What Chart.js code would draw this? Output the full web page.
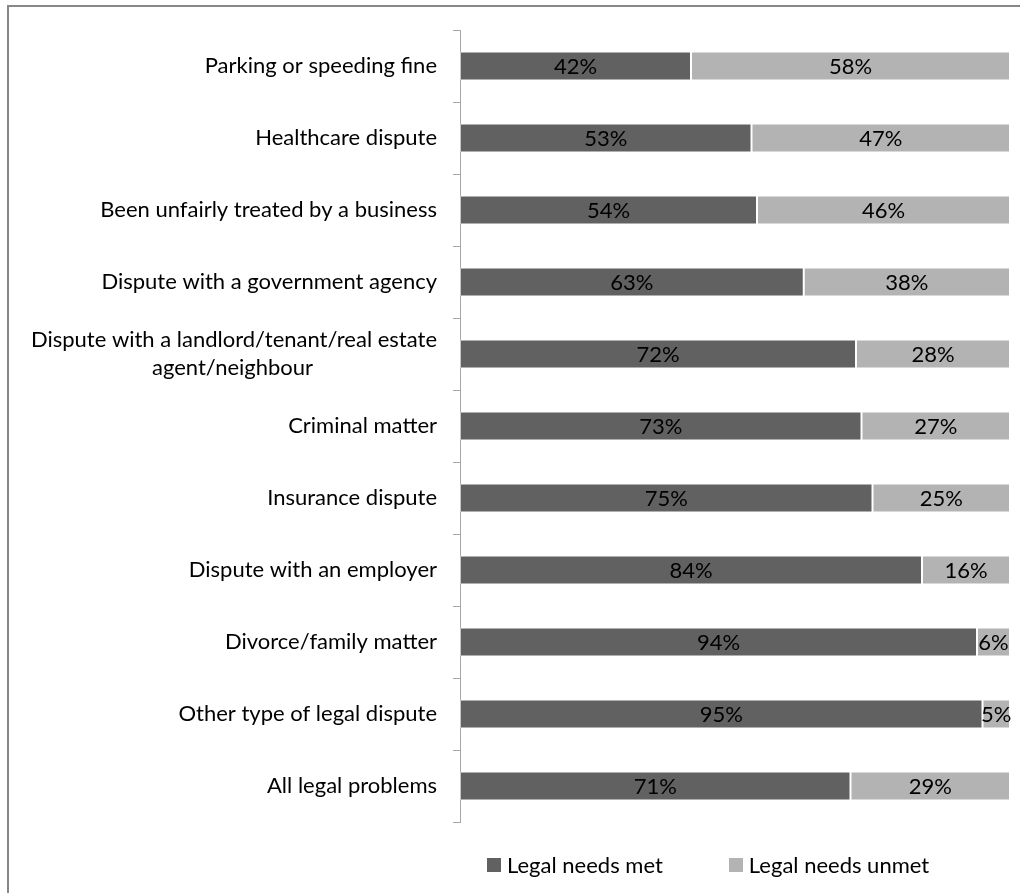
<!DOCTYPE html>
<html>
<head>
<meta charset="utf-8">
<script src="https://cdn.jsdelivr.net/npm/chart.js@4"></script>
<style>
  html, body { margin: 0; padding: 0; width: 1020px; height: 893px; overflow: hidden; background: #fff; }
  #frame { position: absolute; left: 7px; top: 5px; width: 1100px; height: 1000px;
           border-left: 2px solid #878787; border-top: 2px solid #878787; }
  #wrap { position: absolute; left: 0; top: 0; width: 1020px; height: 893px; }
  #legend { position: absolute; top: 850px; left: 487px; height: 28px; line-height: 28px; font-family: Lato, "Liberation Sans", sans-serif;
            font-size: 22px; color: #000; white-space: nowrap; }
  .item { display: inline-flex; align-items: center; margin-right: 66px; }
  .sw { width: 14px; height: 14px; margin-right: 6px; display: inline-block; }
</style>
</head>
<body>
<div id="frame"></div>
<div id="wrap"><canvas id="c" width="1020" height="893"></canvas></div>
<div id="legend"></div>
<script>
const categories = [
  "Parking or speeding fine",
  "Healthcare dispute",
  "Been unfairly treated by a business",
  "Dispute with a government agency",
  ["Dispute with a landlord/tenant/real estate", "agent/neighbour"],
  "Criminal matter",
  "Insurance dispute",
  "Dispute with an employer",
  "Divorce/family matter",
  "Other type of legal dispute",
  "All legal problems"
];
const seriesNames = ["Legal needs met", "Legal needs unmet"];
const metValues   = [42, 53, 54, 62.5, 72, 73, 75, 84, 94, 95, 71];
const unmetValues = [58, 47, 46, 37.5, 28, 27, 25, 16, 6, 5, 29];
const seriesColors = ["#616161", "#b3b3b3"];

const FONT = 'Lato, "Liberation Sans", sans-serif';
const FSIZE = 22;

// center second line of wrapped label (Excel style) by padding with trailing spaces
(function centerWrapped() {
  const ctx = document.createElement('canvas').getContext('2d');
  ctx.font = FSIZE + 'px ' + FONT;
  categories.forEach((c, i) => {
    if (Array.isArray(c)) {
      const w0 = ctx.measureText(c[0]).width;
      const s = c[1];
      const sp = ctx.measureText(' ').width;
      const need = (w0 - ctx.measureText(s).width) / 2;
      const n = Math.max(0, Math.round(need / sp));
      categories[i] = [c[0], s + ' '.repeat(n)];
    }
  });
})();

const valueLabels = {
  id: 'valueLabels',
  afterDatasetsDraw(chart) {
    const ctx = chart.ctx;
    ctx.save();
    ctx.font = FSIZE + 'px ' + FONT;
    ctx.fillStyle = '#000';
    ctx.textAlign = 'center';
    ctx.textBaseline = 'middle';
    chart.data.datasets.forEach((ds, di) => {
      const meta = chart.getDatasetMeta(di);
      meta.data.forEach((el, i) => {
        const p = el.getProps(['x', 'y', 'base'], true);
        const cx = (p.x + p.base) / 2;
        ctx.fillText(Math.round(ds.data[i]) + '%', cx, p.y + 1);
      });
    });
    ctx.restore();
  }
};

new Chart(document.getElementById('c'), {
  type: 'bar',
  data: {
    labels: categories,
    datasets: [
      { label: seriesNames[0], data: metValues, backgroundColor: seriesColors[0],
        borderColor: 'rgba(255,255,255,0.35)', borderWidth: 1, borderSkipped: false },
      { label: seriesNames[1], data: unmetValues, backgroundColor: seriesColors[1],
        borderColor: 'rgba(255,255,255,0.35)', borderWidth: 1, borderSkipped: false }
    ]
  },
  options: {
    indexAxis: 'y',
    responsive: false,
    animation: false,
    events: [],
    layout: { padding: { top: 30, right: 10, bottom: 71, left: 0 } },
    datasets: { bar: { categoryPercentage: 0.4, barPercentage: 1 } },
    plugins: { legend: { display: false }, tooltip: { enabled: false } },
    scales: {
      x: { stacked: true, min: 0, max: 100, display: false },
      y: {
        stacked: true,
        afterFit(scale) { scale.width = 460; },
        grid: { drawOnChartArea: false, offset: true, tickLength: 7, color: '#a6a6a6', lineWidth: 1 },
        border: { display: true, color: '#a6a6a6', width: 1 },
        ticks: { padding: 16, color: '#000', font: { family: FONT, size: FSIZE, lineHeight: 1.27 }, autoSkip: false }
      }
    }
  },
  plugins: [valueLabels]
});

// legend built from series arrays
const lg = document.getElementById('legend');
seriesNames.forEach((n, i) => {
  const it = document.createElement('span'); it.className = 'item';
  const sw = document.createElement('span'); sw.className = 'sw'; sw.style.background = seriesColors[i];
  const tx = document.createElement('span'); tx.textContent = n;
  it.appendChild(sw); it.appendChild(tx); lg.appendChild(it);
});
</script>
</body>
</html>
